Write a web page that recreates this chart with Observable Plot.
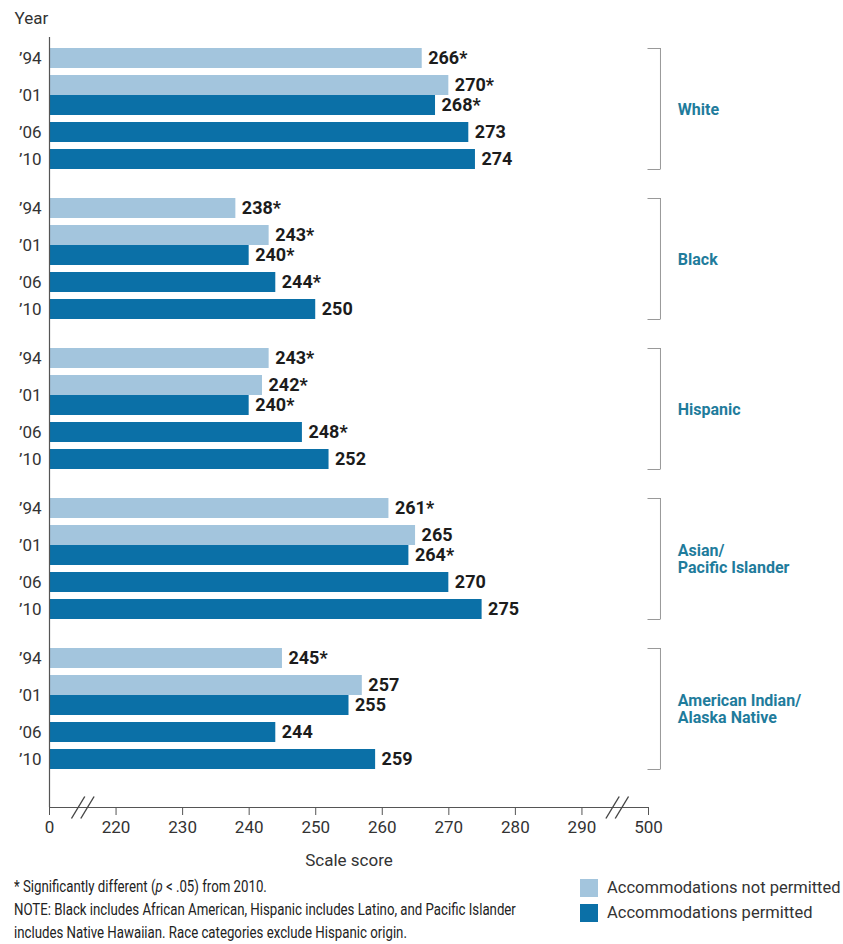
<!DOCTYPE html>
<html>
<head>
<meta charset="utf-8">
<script src="https://cdn.jsdelivr.net/npm/d3@7"></script>
<script src="https://cdn.jsdelivr.net/npm/@observablehq/plot@0.6"></script>
<style>
  body { margin: 0; background: #fff; }
  #wrap { position: relative; width: 843px; height: 944px; font-family: Roboto, "Liberation Sans", sans-serif; }
  #notes { position: absolute; left: 14px; top: 875px; font-size: 16px; line-height: 23px; color: #222; white-space: nowrap; transform-origin: 0 0; }
  #legend { position: absolute; left: 580px; top: 875px; font-size: 16.5px; color: #333; white-space: nowrap; }
  .li { display: flex; align-items: center; height: 25px; }
  .sw { width: 18px; height: 18px; margin-right: 9px; }
</style>
</head>
<body>
<div id="wrap">
  <div id="chart"></div>
  <div id="notes"></div>
  <div id="legend"></div>
</div>
<script>
// ---- data ----
const groupNames = ["White", "Black", "Hispanic", "Asian/\nPacific Islander", "American Indian/\nAlaska Native"];
const yearLabels = ["’94", "’01", "’06", "’10"];
const accLabels = ["Accommodations not permitted", "Accommodations permitted"];
const accColors = ["#a3c5dd", "#0b70a7"];

const notPermitted1994 = [266, 238, 243, 261, 245];
const notPermitted2001 = [270, 243, 242, 265, 257];
const permitted2001 = [268, 240, 240, 264, 255];
const permitted2006 = [273, 244, 248, 270, 244];
const permitted2010 = [274, 250, 252, 275, 259];

const sigNotPermitted1994 = [true, true, true, true, true];
const sigNotPermitted2001 = [true, true, true, false, false];
const sigPermitted2001 = [true, true, true, true, false];
const sigPermitted2006 = [false, true, true, false, false];
const sigPermitted2010 = [false, false, false, false, false];

const xTickValues = [210, 220, 230, 240, 250, 260, 270, 280, 290, 300];
const xTickLabels = ["0", "220", "230", "240", "250", "260", "270", "280", "290", "500"];

// ---- layout (in y units of one bar height) ----
const rowOffsets = [0, 1.35, 2.35, 3.7, 5.05];
const groupPitch = 7.5;
const topPad = 0.55;
const yMax = 38.5;

const series = [
  {vals: notPermitted1994, sig: sigNotPermitted1994, acc: 0},
  {vals: notPermitted2001, sig: sigNotPermitted2001, acc: 0},
  {vals: permitted2001, sig: sigPermitted2001, acc: 1},
  {vals: permitted2006, sig: sigPermitted2006, acc: 1},
  {vals: permitted2010, sig: sigPermitted2010, acc: 1}
];

const bars = [];
groupNames.forEach((g, gi) => {
  series.forEach((s, si) => {
    const y1 = topPad + gi * groupPitch + rowOffsets[si];
    bars.push({group: g, value: s.vals[gi], label: s.vals[gi] + (s.sig[gi] ? "*" : ""), acc: accLabels[s.acc], y1, y2: y1 + 1, ym: y1 + 0.5});
  });
});

const yearRows = [];
const yearRowPos = [0.5, 2.35, 4.2, 5.55];
groupNames.forEach((g, gi) => {
  yearLabels.forEach((yl, yi) => yearRows.push({label: yl, y: topPad + gi * groupPitch + yearRowPos[yi]}));
});

const groups = groupNames.map((g, gi) => {
  const top = topPad + gi * groupPitch;
  return {name: g, top, bottom: top + rowOffsets[4] + 1, mid: top + (rowOffsets[4] + 1) / 2};
});

const breakCenters = [215, 295.3];
const slashes = [];
breakCenters.forEach(c => {
  slashes.push({x1: c - 1.7, x2: c + 0.3});
  slashes.push({x1: c - 0.3, x2: c + 1.7});
});

const bracketX = 301.8, bracketTickX = 299.85, groupLabelX = 304.4;

const fontFam = 'Roboto, "Liberation Sans", sans-serif';

const chart = Plot.plot({
  width: 843,
  height: 872,
  marginLeft: 49,
  marginRight: 195,
  marginTop: 37,
  marginBottom: 65,
  style: {fontFamily: fontFam, fontSize: "16px", color: "#333", background: "#fff"},
  x: {domain: [210, 300]},
  y: {domain: [0, yMax], reverse: true, axis: null},
  color: {domain: accLabels, range: accColors},
  marks: [
    Plot.rect(bars, {x1: 210, x2: "value", y1: "y1", y2: "y2", fill: "acc"}),
    Plot.text(bars, {x: "value", y: "ym", text: "label", dx: 6, textAnchor: "start", fontWeight: "bold", fontSize: 18, fill: "#1c1c1c"}),
    Plot.text(yearRows, {x: 210, y: "y", text: "label", dx: -8, textAnchor: "end", fontSize: 17, fill: "#333"}),
    Plot.ruleX([210], {y1: 0, y2: yMax, stroke: "#555", strokeWidth: 1.2}),
    Plot.ruleY([yMax], {x1: 210, x2: 300, stroke: "#555", strokeWidth: 1.2}),
    Plot.axisX({ticks: xTickValues, tickFormat: (d) => xTickLabels[xTickValues.indexOf(d)], tickSize: 8, tickPadding: 5, fontSize: 17, stroke: "#555", label: "Scale score", labelAnchor: "center", labelArrow: "none", labelOffset: 58}),
    Plot.link(slashes, {x1: "x1", x2: "x2", y1: yMax + 0.55, y2: yMax - 0.55, stroke: "#444", strokeWidth: 1.4}),
    Plot.ruleX(groups, {x: bracketX, y1: "top", y2: "bottom", stroke: "#999", strokeWidth: 1}),
    Plot.link(groups, {x1: bracketTickX, x2: bracketX, y1: "top", y2: "top", stroke: "#999", strokeWidth: 1}),
    Plot.link(groups, {x1: bracketTickX, x2: bracketX, y1: "bottom", y2: "bottom", stroke: "#999", strokeWidth: 1}),
    Plot.text(groups, {x: groupLabelX, y: "mid", text: "name", textAnchor: "start", lineAnchor: "middle", lineHeight: 1.1, fontWeight: "bold", fontSize: 16, fill: "#1f7c9c"}),
    Plot.text(["Year"], {frameAnchor: "top-left", dx: -35, dy: -19, textAnchor: "start", lineAnchor: "middle", fontSize: 17, fill: "#333"})
  ]
});
document.getElementById("chart").appendChild(chart);

const notes = document.getElementById("notes");
notes.innerHTML =
  "* Significantly different (<i>p</i> &lt; .05) from 2010.<br>" +
  "NOTE: Black includes African American, Hispanic includes Latino, and Pacific Islander<br>" +
  "includes Native Hawaiian. Race categories exclude Hispanic origin.";
const targetW = 502;
const w = notes.scrollWidth;
if (w > targetW) notes.style.transform = `scaleX(${targetW / w})`;

const legend = document.getElementById("legend");
accLabels.forEach((l, i) => {
  const row = document.createElement("div");
  row.className = "li";
  row.innerHTML = `<span class="sw" style="background:${accColors[i]}"></span><span>${l}</span>`;
  legend.appendChild(row);
});
</script>
</body>
</html>
